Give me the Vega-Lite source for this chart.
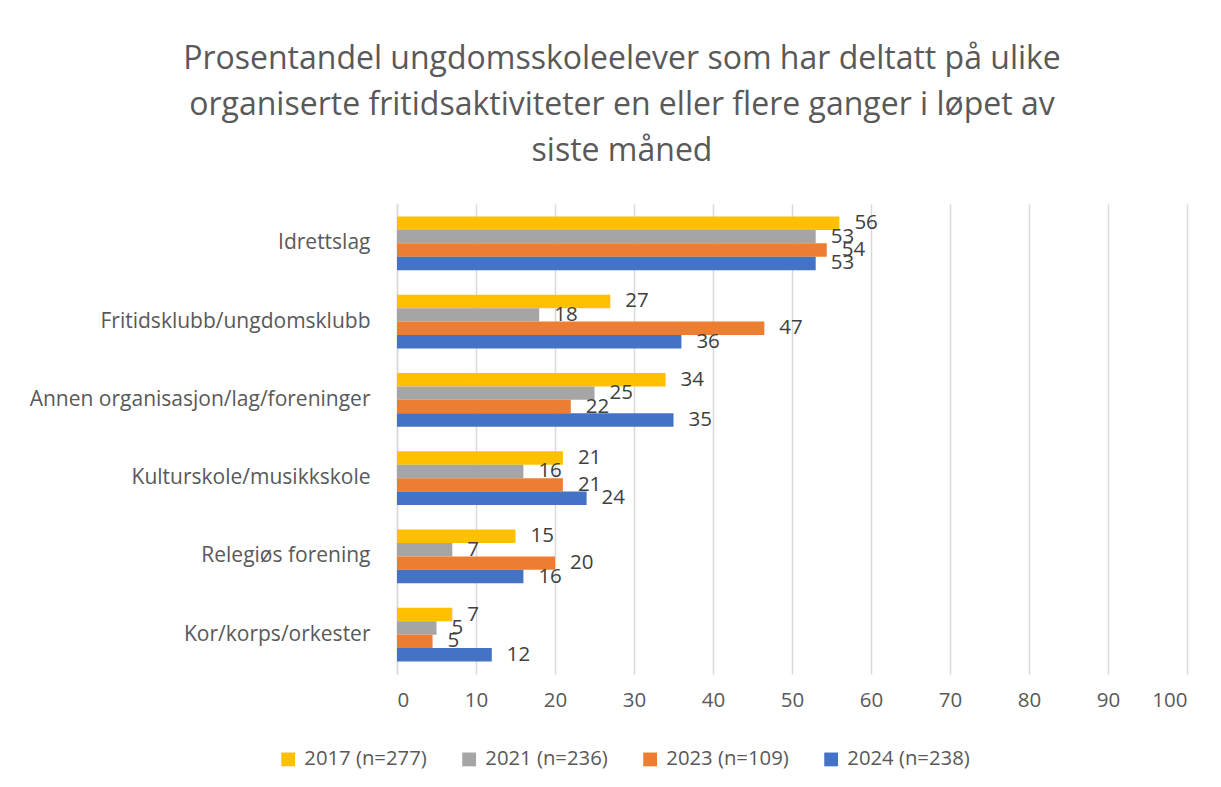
{
  "$schema": "https://vega.github.io/schema/vega-lite/v6.json",
  "autosize": {"type": "none"},
  "width": 790,
  "height": 470,
  "padding": {"left": 397, "top": 204, "right": 34, "bottom": 113},
  "background": "white",
  "title": {
    "text": ["Prosentandel ungdomsskoleelever som har deltatt på ulike", "organiserte fritidsaktiviteter en eller flere ganger  i løpet av", "siste måned"],
    "anchor": "middle",
    "frame": "group",
    "dx": -170,
    "offset": 36,
    "fontSize": 32,
    "font": "Open Sans",
    "fontWeight": "normal",
    "color": "#595959",
    "lineHeight": 46
  },
  "data": {
    "values": [
      {"aktivitet": "Idrettslag ", "serie": "2017 (n=277)", "verdi": 56},
      {"aktivitet": "Idrettslag ", "serie": "2021 (n=236)", "verdi": 53},
      {"aktivitet": "Idrettslag ", "serie": "2023 (n=109)", "verdi": 54.4},
      {"aktivitet": "Idrettslag ", "serie": "2024 (n=238)", "verdi": 53},
      {"aktivitet": "Fritidsklubb/ungdomsklubb", "serie": "2017 (n=277)", "verdi": 27},
      {"aktivitet": "Fritidsklubb/ungdomsklubb", "serie": "2021 (n=236)", "verdi": 18},
      {"aktivitet": "Fritidsklubb/ungdomsklubb", "serie": "2023 (n=109)", "verdi": 46.5},
      {"aktivitet": "Fritidsklubb/ungdomsklubb", "serie": "2024 (n=238)", "verdi": 36},
      {"aktivitet": "Annen organisasjon/lag/foreninger ", "serie": "2017 (n=277)", "verdi": 34},
      {"aktivitet": "Annen organisasjon/lag/foreninger ", "serie": "2021 (n=236)", "verdi": 25},
      {"aktivitet": "Annen organisasjon/lag/foreninger ", "serie": "2023 (n=109)", "verdi": 22},
      {"aktivitet": "Annen organisasjon/lag/foreninger ", "serie": "2024 (n=238)", "verdi": 35},
      {"aktivitet": "Kulturskole/musikkskole", "serie": "2017 (n=277)", "verdi": 21},
      {"aktivitet": "Kulturskole/musikkskole", "serie": "2021 (n=236)", "verdi": 16},
      {"aktivitet": "Kulturskole/musikkskole", "serie": "2023 (n=109)", "verdi": 21},
      {"aktivitet": "Kulturskole/musikkskole", "serie": "2024 (n=238)", "verdi": 24},
      {"aktivitet": "Relegiøs forening ", "serie": "2017 (n=277)", "verdi": 15},
      {"aktivitet": "Relegiøs forening ", "serie": "2021 (n=236)", "verdi": 7},
      {"aktivitet": "Relegiøs forening ", "serie": "2023 (n=109)", "verdi": 20},
      {"aktivitet": "Relegiøs forening ", "serie": "2024 (n=238)", "verdi": 16},
      {"aktivitet": "Kor/korps/orkester", "serie": "2017 (n=277)", "verdi": 7},
      {"aktivitet": "Kor/korps/orkester", "serie": "2021 (n=236)", "verdi": 5},
      {"aktivitet": "Kor/korps/orkester", "serie": "2023 (n=109)", "verdi": 4.5},
      {"aktivitet": "Kor/korps/orkester", "serie": "2024 (n=238)", "verdi": 12}
    ]
  },
  "encoding": {
    "y": {
      "field": "aktivitet",
      "type": "nominal",
      "sort": ["Idrettslag ", "Fritidsklubb/ungdomsklubb", "Annen organisasjon/lag/foreninger ", "Kulturskole/musikkskole", "Relegiøs forening ", "Kor/korps/orkester"],
      "scale": {"paddingInner": 0.314, "paddingOuter": 0.16},
      "axis": {
        "title": null,
        "ticks": false,
        "domain": true,
        "domainColor": "#D9D9D9",
        "domainWidth": 1.5,
        "labelFont": "Open Sans",
        "labelFontSize": 21,
        "labelColor": "#595959",
        "labelPadding": 27,
        "labelLimit": 400
      }
    },
    "yOffset": {
      "field": "serie",
      "type": "nominal",
      "sort": ["2017 (n=277)", "2021 (n=236)", "2023 (n=109)", "2024 (n=238)"],
      "scale": {"paddingInner": 0, "paddingOuter": 0}
    },
    "x": {
      "field": "verdi",
      "type": "quantitative",
      "scale": {"domain": [0, 100], "nice": false},
      "axis": {
        "title": null,
        "values": [0, 10, 20, 30, 40, 50, 60, 70, 80, 90, 100],
        "grid": true,
        "gridColor": "#D9D9D9",
        "gridWidth": 1.5,
        "domain": false,
        "ticks": false,
        "labelFont": "Open Sans",
        "labelFontSize": 20.5,
        "labelColor": "#595959",
        "labelPadding": 16
      }
    }
  },
  "layer": [
    {
      "mark": {"type": "bar"},
      "encoding": {
        "color": {
          "field": "serie",
          "type": "nominal",
          "sort": ["2017 (n=277)", "2021 (n=236)", "2023 (n=109)", "2024 (n=238)"],
          "scale": {"range": ["#FFC000", "#A5A5A5", "#ED7D31", "#4472C4"]},
          "legend": {
            "title": null,
            "orient": "none",
            "direction": "horizontal",
            "legendX": -119,
            "legendY": 545,
            "symbolType": "square",
            "symbolSize": 190,
            "symbolStrokeWidth": 0,
            "symbolOpacity": 1,
            "labelFont": "Open Sans",
            "labelFontSize": 20.3,
            "labelColor": "#595959",
            "columnPadding": 32,
            "labelOffset": 6
          }
        }
      }
    },
    {
      "mark": {"type": "text", "align": "left", "baseline": "middle", "dx": 15, "font": "Open Sans", "fontSize": 20.5, "color": "#404040"},
      "encoding": {
        "text": {"field": "verdi", "type": "quantitative", "format": ".0f"}
      }
    }
  ],
  "config": {
    "view": {"stroke": null}
  }
}
